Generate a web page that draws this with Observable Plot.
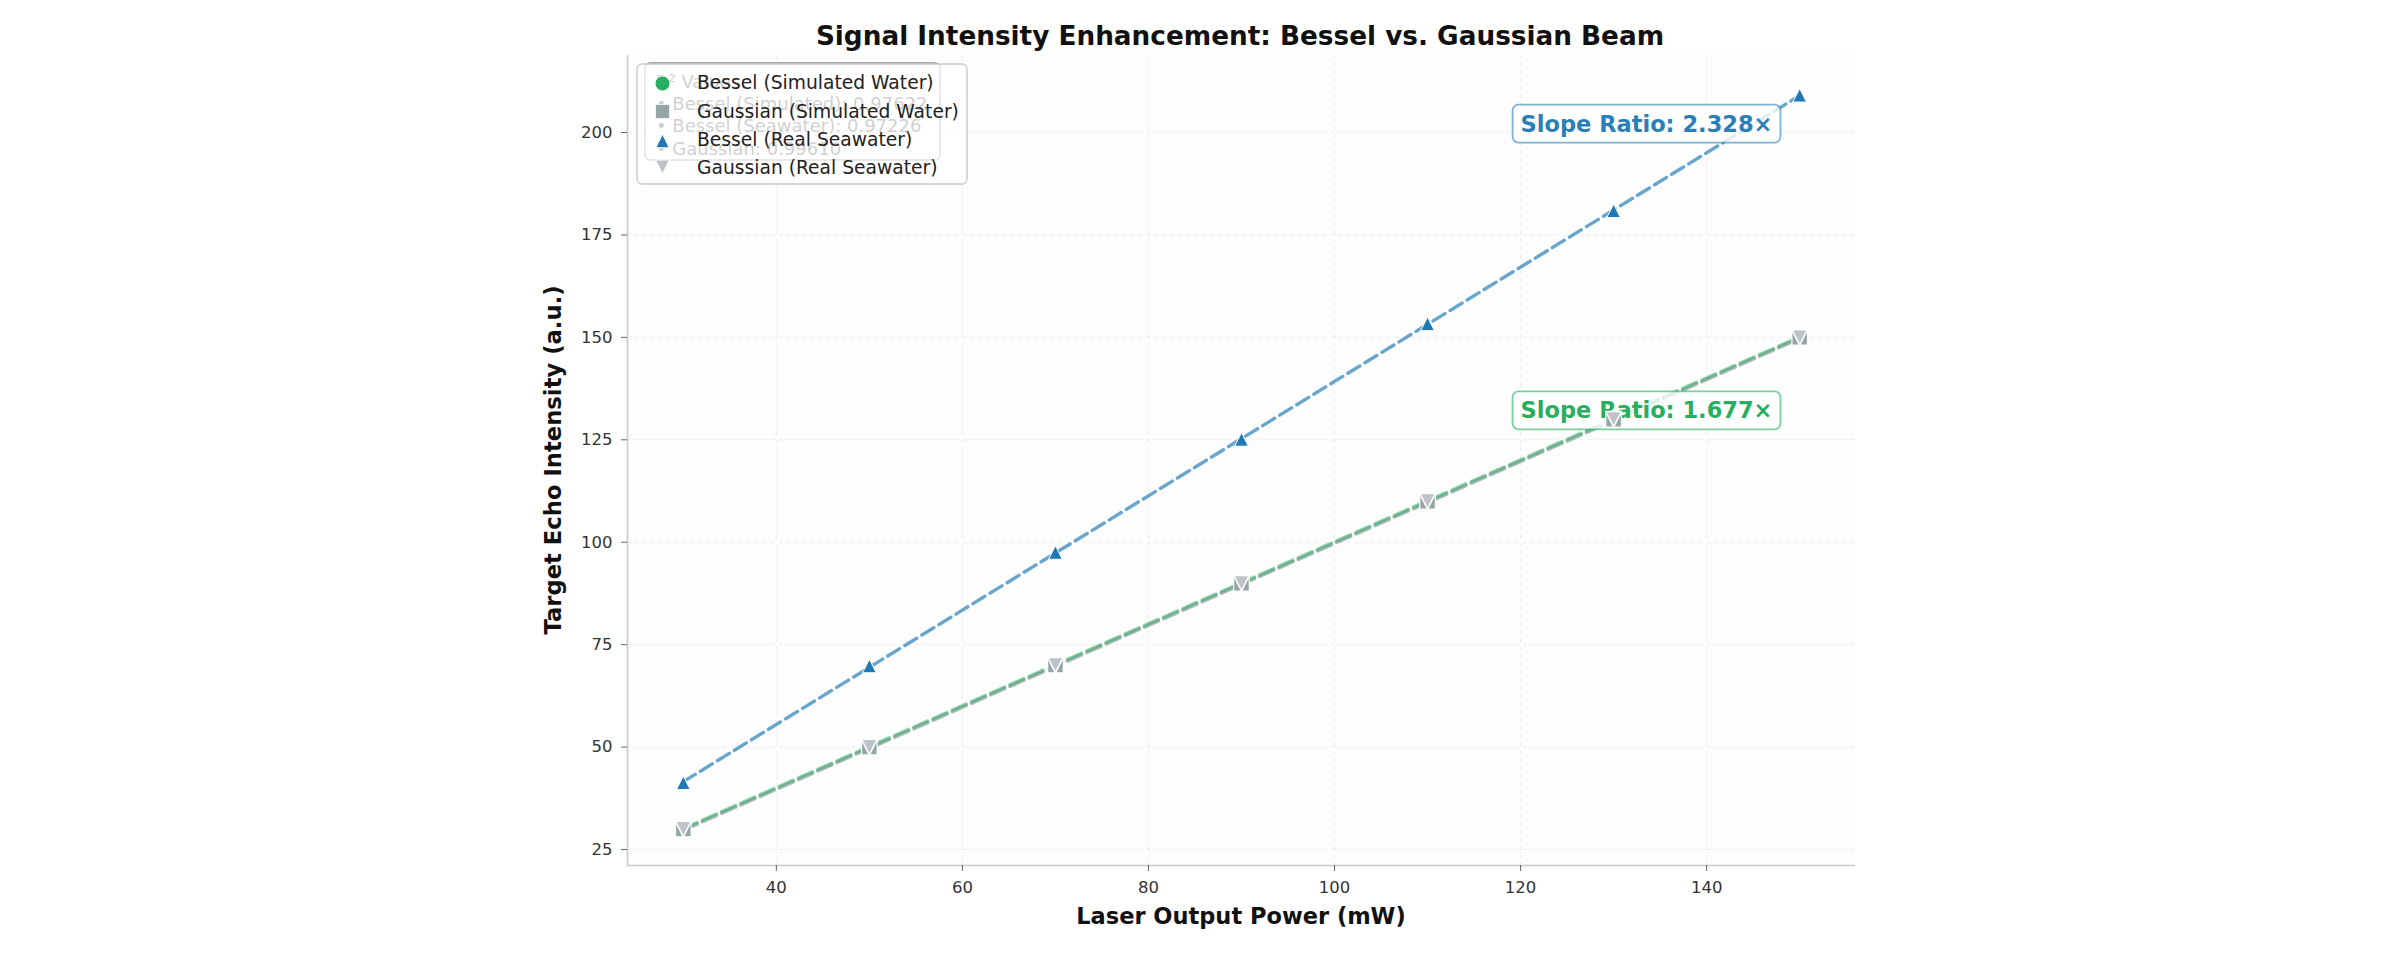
<!DOCTYPE html>
<html><head><meta charset="utf-8">
<script src="https://cdn.jsdelivr.net/npm/d3@7"></script>
<script src="https://cdn.jsdelivr.net/npm/@observablehq/plot@0.6"></script>
<style>
html,body{margin:0;padding:0;background:#fff;}
#wrap{position:relative;width:2400px;height:954px;font-family:"DejaVu Sans",sans-serif;}
#wrap > svg{position:absolute;left:0;top:0;}
</style></head><body><div id="wrap"></div>
<script>
// ---- data ----
const power = [30, 50, 70, 90, 110, 130, 150];
const besselSimWater = [30, 50, 70, 90, 110, 130, 150];
const gaussSimWater = [30, 50, 70, 90, 110, 130, 150];
const besselSeawater = [41.3, 69.8, 97.5, 125.1, 153.3, 180.9, 209.1];
const gaussSeawater = [30, 50, 70, 90, 110, 130, 150];
const xTicks = [40, 60, 80, 100, 120, 140];
const yTicks = [25, 50, 75, 100, 125, 150, 175, 200];
const xDomain = [24, 156];
const yDomain = [21.1, 218.8];
const seriesNames = ["Bessel (Simulated Water)", "Gaussian (Simulated Water)", "Bessel (Real Seawater)", "Gaussian (Real Seawater)"];
const annotX = [120, 120];
const annotY = [202, 132];
const annotText = ["Slope Ratio: 2.328×", "Slope Ratio: 1.677×"];
const annotColor = ["#2980b9", "#27ae60"];
const r2Lines = ["R² Values:", "• Bessel (Simulated): 0.97622", "• Bessel (Seawater): 0.97226", "• Gaussian: 0.99610"];
const titleText = "Signal Intensity Enhancement: Bessel vs. Gaussian Beam";
const xLabel = "Laser Output Power (mW)";
const yLabel = "Target Echo Intensity (a.u.)";

const rows = arr => power.map((x, i) => ({x, y: arr[i]}));

// matplotlib-like symbols (r = half width)
const rad = s => Math.sqrt(s / Math.PI);
const triUp = {draw(c, s) { const r = rad(s); c.moveTo(0, -r); c.lineTo(r, r); c.lineTo(-r, r); c.closePath(); }};
const triDown = {draw(c, s) { const r = rad(s); c.moveTo(0, r); c.lineTo(-r, -r); c.lineTo(r, -r); c.closePath(); }};
const sq = {draw(c, s) { const r = rad(s); c.rect(-r, -r, 2 * r, 2 * r); }};

const blue = "#1f78b4";
const green = "#27ae60";
const gray = "#95a5a6";
const lightGray = "#bdc3c7";

const chart = Plot.plot({
  width: 2400, height: 954,
  marginLeft: 627, marginRight: 545, marginTop: 55, marginBottom: 89,
  style: {fontFamily: "DejaVu Sans", fontSize: "16.5px", background: "transparent", color: "#333"},
  x: {domain: xDomain},
  y: {domain: yDomain},
  marks: [
    Plot.frame({fill: "#fdfdfd", stroke: "none"}),
    Plot.gridX(xTicks, {stroke: "#d0d0d0", strokeOpacity: 0.4, strokeDasharray: "4,4", strokeWidth: 1}),
    Plot.gridY(yTicks, {stroke: "#d0d0d0", strokeOpacity: 0.4, strokeDasharray: "4,4", strokeWidth: 1}),
    Plot.ruleX([xDomain[0]], {stroke: "#cccccc", strokeWidth: 1.6}),
    Plot.ruleY([yDomain[0]], {stroke: "#cccccc", strokeWidth: 1.6}),
    Plot.axisX(xTicks, {tickSize: 6, tickPadding: 10, label: null, stroke: "#666", fill: "#333", fontSize: 16.5}),
    Plot.axisY(yTicks, {tickSize: 6, tickPadding: 9, label: null, stroke: "#666", fill: "#333", fontSize: 16.5}),
    Plot.linearRegressionY(rows(gaussSimWater), {x: "x", y: "y", ci: 0, stroke: gray, strokeOpacity: 0.8, strokeWidth: 3.8, strokeDasharray: "15,6", dy: 1}),
    Plot.linearRegressionY(rows(besselSimWater), {x: "x", y: "y", ci: 0, stroke: green, strokeOpacity: 0.5, strokeWidth: 3.4, strokeDasharray: "15,6", dy: -0.5}),
    Plot.linearRegressionY(rows(besselSeawater), {x: "x", y: "y", ci: 0, stroke: "#2980b9", strokeOpacity: 0.7, strokeWidth: 3.4, strokeDasharray: "14,6"}),
    ...annotText.map((t, i) => Plot.text([t], {x: () => annotX[i], y: () => annotY[i], text: d => d, fill: annotColor[i], fontWeight: "bold", fontSize: 22.5, textAnchor: "start"})),
    Plot.dot(rows(besselSimWater), {x: "x", y: "y", r: 7, fill: green, stroke: "white", strokeWidth: 1.2}),
    Plot.dot(rows(gaussSimWater), {x: "x", y: "y", r: 7.8, symbol: sq, fill: gray, stroke: "white", strokeWidth: 1.2}),
    Plot.dot(rows(besselSeawater), {x: "x", y: "y", r: 6.8, symbol: triUp, fill: blue, stroke: "white", strokeWidth: 1}),
    Plot.dot(rows(gaussSeawater), {x: "x", y: "y", r: 7.8, symbol: triDown, fill: lightGray, stroke: "white", strokeWidth: 1.6})
  ]
});

const wrap = document.getElementById("wrap");
wrap.appendChild(chart);

// boxes behind annotations
const NS = "http://www.w3.org/2000/svg";
chart.querySelectorAll("text").forEach(t => {
  const i = annotText.indexOf(t.textContent);
  if (i < 0) return;
  const c = annotColor[i];
  const b = t.getBBox();
  const rect = document.createElementNS(NS, "rect");
  rect.setAttribute("x", b.x - 8);
  rect.setAttribute("y", b.y - 6);
  rect.setAttribute("width", b.width + 16);
  rect.setAttribute("height", b.height + 12);
  rect.setAttribute("rx", 6);
  rect.setAttribute("fill", "white");
  rect.setAttribute("fill-opacity", 0.8);
  rect.setAttribute("stroke", c);
  rect.setAttribute("stroke-opacity", 0.6);
  rect.setAttribute("stroke-width", 1.8);
  const tr = t.getAttribute("transform");
  if (tr) rect.setAttribute("transform", tr);
  t.parentNode.insertBefore(rect, t);
});

// overlay: title, axis labels, R² box, legend
const ov = d3.select(wrap).append("svg").attr("width", 2400).attr("height", 954)
  .style("font-family", "DejaVu Sans").style("pointer-events", "none");
ov.append("text").attr("x", 1240).attr("y", 45).attr("text-anchor", "middle")
  .attr("font-size", 26.3).attr("font-weight", "bold").attr("fill", "#111").text(titleText);
ov.append("text").attr("x", 1241).attr("y", 924).attr("text-anchor", "middle")
  .attr("font-size", 22.5).attr("font-weight", "bold").attr("fill", "#111").text(xLabel);
ov.append("text").attr("transform", "translate(561,460) rotate(-90)").attr("text-anchor", "middle")
  .attr("font-size", 22.7).attr("font-weight", "bold").attr("fill", "#111").text(yLabel);

// faded R² box (under the legend)
ov.append("rect").attr("x", 645).attr("y", 63).attr("width", 295).attr("height", 97).attr("rx", 5)
  .attr("fill", "white").attr("fill-opacity", 0.6).attr("stroke", "#888").attr("stroke-width", 1.5);
r2Lines.forEach((l, i) => {
  ov.append("text").attr("x", 656).attr("y", 88 + i * 22.2).attr("font-size", 18).attr("fill", "#3a3a3a").text(l);
});

// legend
ov.append("rect").attr("x", 637).attr("y", 64).attr("width", 330).attr("height", 120).attr("rx", 5)
  .attr("fill", "white").attr("fill-opacity", 0.76).attr("stroke", "#cccccc").attr("stroke-width", 1.5);
const legSym = [d3.symbolCircle, sq, triUp, triDown];
const legR = [7.5, 7.2, 6.8, 7];
const legFill = [green, gray, blue, lightGray];
const legY = [83.5, 111.5, 141, 167];
seriesNames.forEach((n, i) => {
  const base = 89.3 + i * 28.2;
  const size = Math.PI * legR[i] * legR[i];
  ov.append("path").attr("transform", `translate(662.5,${legY[i]})`)
    .attr("d", d3.symbol(legSym[i], size)()).attr("fill", legFill[i]).attr("stroke", "white").attr("stroke-width", 1);
  ov.append("text").attr("x", 697).attr("y", base).attr("font-size", 18.7).attr("fill", "#222").text(n);
});
</script></body></html>
